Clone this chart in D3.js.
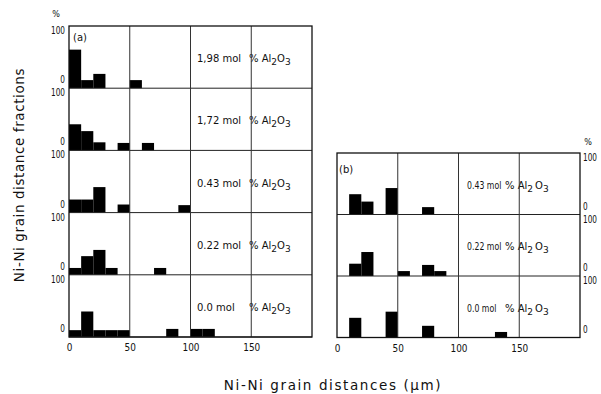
<!DOCTYPE html>
<html>
<head>
<meta charset="utf-8">
<script src="https://cdn.jsdelivr.net/npm/d3@7"></script>
<style>
  body { margin: 0; background: #fff; }
  svg { display: block; }
  text { font-family: "DejaVu Sans", sans-serif; fill: #111; }
</style>
</head>
<body>
<div id="chart"></div>
<script>
// bin starts (µm), each bin is 10 µm wide
const binStarts = [0, 10, 20, 30, 40, 50, 60, 70, 80, 90, 100, 110, 120, 130, 140];
const xTicks = [0, 50, 100, 150];

// panel (a) fractions in % per bin
const a198 = [62, 13, 23, 0, 0, 13, 0, 0, 0, 0, 0, 0, 0, 0, 0];
const a172 = [42, 31, 13, 0, 12, 0, 12, 0, 0, 0, 0, 0, 0, 0, 0];
const a043 = [21, 21, 41, 0, 13, 0, 0, 0, 0, 12, 0, 0, 0, 0, 0];
const a022 = [11, 30, 40, 11, 0, 0, 0, 11, 0, 0, 0, 0, 0, 0, 0];
const a000 = [11, 41, 11, 11, 11, 0, 0, 0, 13, 0, 13, 13, 0, 0, 0];
// panel (b)
const b043 = [0, 33, 21, 0, 43, 0, 0, 12, 0, 0, 0, 0, 0, 0, 0];
const b022 = [0, 20, 39, 0, 0, 8, 0, 18, 8, 0, 0, 0, 0, 0, 0];
const b000 = [0, 32, 0, 0, 42, 0, 0, 19, 0, 0, 0, 0, 0, 9, 0];

const aLabels = ["1,98 mol", "1,72 mol", "0.43 mol", "0.22 mol", "0.0 mol"];
const bLabels = ["0.43 mol", "0.22 mol", "0.0 mol"];

const width = 601, height = 394;
const svg = d3.select("#chart").append("svg")
    .attr("width", width)
    .attr("height", height);

// narrow text, the print uses a condensed face
function narrowText(parent, x, y, str, size, sx, anchor) {
    return parent.append("text")
        .attr("transform", "translate(" + x + "," + y + ") scale(" + sx + ",1)")
        .attr("text-anchor", anchor || "start")
        .attr("font-size", size)
        .text(str);
}

function drawPanel(opts) {
    let x = d3.scaleLinear().domain([0, 200]).range([opts.left, opts.right]);
    let rowH = (opts.bottom - opts.top) / opts.series.length;
    let g = svg.append("g");

    opts.series.forEach(function(vals, i) {
        let rTop = opts.top + i * rowH;
        let y = d3.scaleLinear().domain([0, 100]).range([rTop + rowH, rTop]);

        // bars
        g.selectAll(null)
            .data(binStarts.map(function(s, k) { return {s: s, v: vals[k]}; }).filter(function(d) { return d.v > 0; }))
            .enter().append("rect")
            .attr("x", function(d) { return x(d.s); })
            .attr("width", function(d) { return x(d.s + 10) - x(d.s); })
            .attr("y", function(d) { return y(d.v); })
            .attr("height", function(d) { return y(0) - y(d.v); })
            .attr("fill", "#000");

        // row separator
        g.append("line")
            .attr("x1", opts.left).attr("x2", opts.right)
            .attr("y1", y(0)).attr("y2", y(0))
            .attr("stroke", "#222").attr("stroke-width", 1);

        // y labels
        let lx = opts.side === "left" ? opts.left - 4 : opts.right + 3;
        let anchor = opts.side === "left" ? "end" : "start";
        narrowText(g, lx, y(100) + 8, "100", 10.5, 0.7, anchor);
        narrowText(g, lx, y(0) - 5, "0", 10.5, 0.7, anchor);

        // composition label
        let ty = (y(0) + y(100)) / 2 + 5;
        narrowText(g, opts.molX, ty, opts.labels[i], 10, opts.molScale);
        let t = g.append("text").attr("x", opts.pctX).attr("y", ty).attr("font-size", 10);
        t.append("tspan").text("% Al");
        t.append("tspan").attr("dy", 3).attr("font-size", 9).text("2");
        t.append("tspan").attr("dy", -3).attr("dx", opts.subGap).text("O");
        t.append("tspan").attr("dy", 3).attr("font-size", 9).text("3");
    });

    // vertical grid lines
    g.selectAll(null).data([50, 100, 150]).enter().append("line")
        .attr("x1", function(d) { return x(d); }).attr("x2", function(d) { return x(d); })
        .attr("y1", opts.top).attr("y2", opts.bottom)
        .attr("stroke", "#333").attr("stroke-width", 1);

    // frame
    g.append("rect")
        .attr("x", opts.left).attr("y", opts.top)
        .attr("width", opts.right - opts.left).attr("height", opts.bottom - opts.top)
        .attr("fill", "none").attr("stroke", "#111").attr("stroke-width", 1.3);

    // x axis
    let ax = g.append("g")
        .attr("transform", "translate(0," + opts.bottom + ")")
        .call(d3.axisBottom(x).tickValues(xTicks).tickSize(0).tickPadding(7));
    ax.select(".domain").remove();
    ax.selectAll("text").attr("font-size", 10.5).attr("fill", "#111")
        .style("font-family", "\"DejaVu Sans\", sans-serif")
        .attr("transform", "scale(0.85,1)");

    // % unit
    narrowText(g, opts.side === "left" ? opts.left - 13 : opts.right + 8, opts.top - opts.pctDy, "%", 9.5, 0.85, "middle");

    // panel tag
    g.append("text").attr("x", opts.tagX).attr("y", opts.top + opts.tagDy)
        .attr("font-size", 10).text(opts.tag);
}

drawPanel({left: 69, right: 312, top: 26, bottom: 337, series: [a198, a172, a043, a022, a000],
    labels: aLabels, side: "left", molX: 197, pctX: 249, molScale: 1, subGap: 0,
    tag: "(a)", tagX: 73, tagDy: 15, pctDy: 9});
drawPanel({left: 337, right: 580, top: 153, bottom: 337.5, series: [b043, b022, b000],
    labels: bLabels, side: "right", molX: 467, pctX: 505, molScale: 0.78, subGap: 2,
    tag: "(b)", tagX: 339, tagDy: 20, pctDy: 8});

// axis titles
svg.append("text")
    .attr("x", 333).attr("y", 390)
    .attr("text-anchor", "middle").attr("font-size", 13.5)
    .attr("letter-spacing", 1.6)
    .text("Ni-Ni grain distances (\u00b5m)");

svg.append("text")
    .attr("transform", "translate(24,175) rotate(-90)")
    .attr("text-anchor", "middle").attr("font-size", 13.5)
    .attr("letter-spacing", 0.6)
    .text("Ni-Ni grain distance fractions");
</script>
</body>
</html>
